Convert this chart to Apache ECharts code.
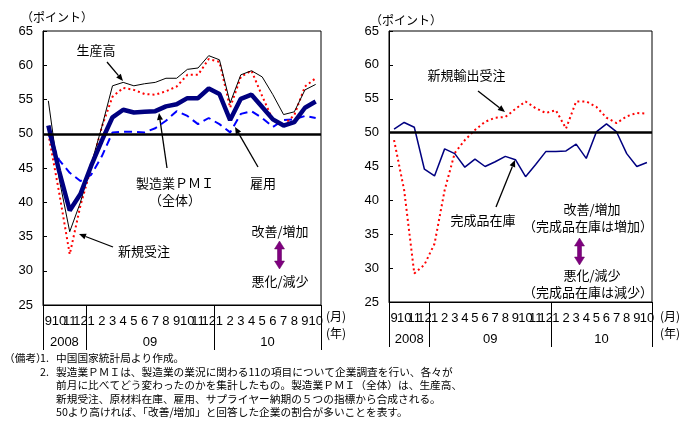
<!DOCTYPE html>
<html>
<head>
<meta charset="utf-8">
<script src="https://cdn.jsdelivr.net/npm/echarts@6/dist/echarts.min.js"></script>
<style>
html, body { margin: 0; padding: 0; background: #fff; }
#chart { width: 692px; height: 445px; }
</style>
</head>
<body>
<div id="chart"></div>
<script>
// months from 2008/9 to 2010/10
var months = ['9', '10', '11', '12', '1', '2', '3', '4', '5', '6', '7', '8', '9', '10', '11', '12', '1', '2', '3', '4', '5', '6', '7', '8', '9', '10'];
var years = ['2008', '09', '10'];
var yearCenters = [2, 10, 21];
var yearBreaks = [0, 4, 16, 26];

// left panel
var pmi = [51.2, 44.6, 38.8, 41.2, 45.3, 49.0, 52.4, 53.5, 53.1, 53.2, 53.3, 54.0, 54.3, 55.2, 55.2, 56.6, 55.8, 52.0, 55.1, 55.7, 53.9, 52.1, 51.2, 51.7, 53.8, 54.7];
var output = [54.8, 43.5, 35.7, 40.0, 45.5, 51.0, 57.0, 57.5, 57.0, 57.3, 57.5, 58.1, 58.1, 59.4, 59.6, 61.4, 60.8, 54.5, 58.6, 59.2, 58.3, 55.7, 52.8, 53.2, 56.4, 57.2];
var newOrders = [50.0, 41.5, 32.4, 39.5, 45.0, 51.0, 55.4, 56.7, 56.4, 55.8, 55.7, 56.2, 56.9, 58.6, 58.6, 60.9, 60.5, 53.8, 58.3, 59.2, 55.5, 52.0, 51.3, 52.7, 56.9, 58.1];
var employment = [50.0, 46.2, 44.3, 43.1, 44.0, 46.7, 50.2, 50.3, 50.3, 50.2, 50.8, 51.9, 53.3, 52.6, 51.4, 52.3, 51.4, 50.2, 52.9, 53.3, 52.3, 51.0, 52.0, 52.1, 52.6, 52.3];

// right panel
var exportOrders = [48.9, 41.5, 29.2, 30.5, 33.6, 41.5, 47.0, 48.9, 50.4, 51.6, 52.2, 52.3, 53.5, 54.6, 53.6, 52.9, 53.3, 50.6, 54.6, 54.6, 53.8, 52.2, 51.4, 52.4, 52.9, 52.8];
var finishedStock = [50.5, 51.5, 50.8, 44.6, 43.6, 47.6, 46.9, 44.9, 46.1, 45.0, 45.7, 46.5, 46.0, 43.5, 45.3, 47.2, 47.2, 47.3, 48.3, 46.2, 50.1, 51.3, 50.1, 46.9, 45.0, 45.6];

var JP = '"Noto Sans CJK JP", sans-serif';
var NUM = '"Liberation Sans", Arial, sans-serif';
var NARROW = '"Liberation Sans Narrow", "Liberation Sans", sans-serif';

var chart = echarts.init(document.getElementById('chart'));

function monthAxis(gi) {
  return {
    type: 'category', gridIndex: gi, data: months, boundaryGap: true,
    axisLine: { lineStyle: { color: '#000', width: 1 } },
    axisTick: { show: false },
    axisLabel: { interval: 0, color: '#000', fontFamily: NARROW, fontSize: 13, margin: 10 }
  };
}

function yearAxis(gi) {
  return {
    type: 'value', gridIndex: gi, position: 'bottom', min: 0, max: 26,
    axisLine: { show: false },
    splitLine: { show: false },
    axisTick: { show: true, customValues: yearBreaks, length: 45, lineStyle: { color: '#000', width: 1 } },
    axisLabel: {
      customValues: yearCenters, margin: 31, color: '#000', fontFamily: NARROW, fontSize: 13,
      formatter: function (v) { return years[yearCenters.indexOf(v)]; }
    }
  };
}

function valueAxis(gi) {
  return {
    type: 'value', gridIndex: gi, min: 25, max: 65, interval: 5,
    axisLine: { show: true, lineStyle: { color: '#000', width: 1 } },
    axisTick: { show: true, inside: true, length: 4, lineStyle: { color: '#000' } },
    axisLabel: { color: '#000', fontFamily: NUM, fontSize: 13, margin: 10 },
    splitLine: { show: false }
  };
}

function line(name, data, xi, yi, style) {
  return {
    name: name, type: 'line', xAxisIndex: xi, yAxisIndex: yi, data: data,
    symbol: 'none', lineStyle: style
  };
}

function baseLine(s) {
  s.markLine = {
    silent: true, symbol: 'none', label: { show: false }, z: 10,
    lineStyle: { color: '#000', width: 2.5, type: 'solid' },
    data: [{ yAxis: 50 }]
  };
  return s;
}

function arrow(x1, y1, x2, y2) {
  var a = Math.atan2(y2 - y1, x2 - x1), L = 7, W = 3;
  var bx = x2 - L * Math.cos(a), by = y2 - L * Math.sin(a);
  var px = -Math.sin(a) * W, py = Math.cos(a) * W;
  return [
    { type: 'line', shape: { x1: x1, y1: y1, x2: bx, y2: by }, style: { stroke: '#000', lineWidth: 1.3 } },
    { type: 'polygon', shape: { points: [[x2, y2], [bx + px, by + py], [bx - px, by - py]] }, style: { fill: '#000' } }
  ];
}

function dblArrow(cx, y1, y2) {
  var hw = 5, hh = 8, sw = 2;
  return {
    type: 'polygon',
    shape: { points: [[cx, y1], [cx + hw, y1 + hh], [cx + sw, y1 + hh], [cx + sw, y2 - hh], [cx + hw, y2 - hh],
      [cx, y2], [cx - hw, y2 - hh], [cx - sw, y2 - hh], [cx - sw, y1 + hh], [cx - hw, y1 + hh]] },
    style: { fill: '#800080', stroke: '#5a005a', lineWidth: 0.5 }
  };
}

function txt(s, x, y, size, align, font) {
  return {
    type: 'text',
    style: { text: s, x: x, y: y, fill: '#000', fontSize: size, fontFamily: font || JP,
      textAlign: align || 'center', textVerticalAlign: 'middle' }
  };
}

var notes = [
  txt('（備考）', 4, 358, 10.7, 'left'),
  txt('1.', 40, 358, 10.7, 'left'),
  txt('中国国家統計局より作成。', 56, 358, 10.7, 'left'),
  txt('2.', 40, 371.5, 10.7, 'left'),
  txt('製造業ＰＭＩは、製造業の業況に関わる11の項目について企業調査を行い、各々が', 56, 371.5, 10.7, 'left'),
  txt('前月に比べてどう変わったのかを集計したもの。製造業ＰＭＩ（全体）は、生産高、', 56, 385, 10.7, 'left'),
  txt('新規受注、原材料在庫、雇用、サプライヤー納期の５つの指標から合成される。', 56, 398.5, 10.7, 'left'),
  txt('50より高ければ、「改善/増加」と回答した企業の割合が多いことを表す。', 56, 412, 10.7, 'left')
];

var graphics = [
  txt('（ポイント）', 57, 17, 12),
  txt('（ポイント）', 406, 20, 12),
  txt('(月)', 336, 316, 12), txt('(年)', 336, 333, 12),
  txt('(月)', 670, 316, 12), txt('(年)', 670, 333, 12),
  txt('生産高', 96, 50, 13),
  txt('製造業ＰＭＩ', 175, 183, 13),
  txt('（全体）', 175, 200, 13),
  txt('雇用', 263, 183, 13),
  txt('新規受注', 144, 251, 13),
  txt('改善/増加', 280, 231, 13),
  txt('悪化/減少', 280, 281, 13),
  dblArrow(279.5, 241, 269),
  txt('新規輸出受注', 466.5, 75, 13),
  txt('完成品在庫', 483, 220, 13),
  txt('改善/増加', 592, 209, 13),
  txt('（完成品在庫は増加）', 588, 226, 13),
  dblArrow(579.5, 238, 265),
  txt('悪化/減少', 592, 275, 13),
  txt('（完成品在庫は減少）', 588, 292, 13)
].concat(
  arrow(107, 62, 123, 81),
  arrow(167, 168, 159, 113),
  arrow(258, 167, 235, 127),
  arrow(113, 247, 79, 234),
  arrow(478, 91, 505, 112),
  arrow(496, 207, 515, 160),
  notes
);

chart.setOption({
  animation: false,
  backgroundColor: '#fff',
  grid: [
    { left: 43, top: 31, width: 278, height: 274, show: true, borderColor: '#000', borderWidth: 1, backgroundColor: 'transparent' },
    { left: 389, top: 31, width: 263, height: 271, show: true, borderColor: '#000', borderWidth: 1, backgroundColor: 'transparent' }
  ],
  xAxis: [monthAxis(0), yearAxis(0), monthAxis(1), yearAxis(1)],
  yAxis: [valueAxis(0), valueAxis(1)],
  series: [
    baseLine(line('雇用', employment, 0, 0, { color: '#0000ff', width: 2, type: [8, 5] })),
    line('新規受注', newOrders, 0, 0, { color: '#ff0000', width: 2, type: [2, 3] }),
    line('生産高', output, 0, 0, { color: '#000', width: 1 }),
    line('製造業PMI（全体）', pmi, 0, 0, { color: '#000080', width: 4.5 }),
    baseLine(line('新規輸出受注', exportOrders, 2, 1, { color: '#ff0000', width: 2, type: [2, 3] })),
    line('完成品在庫', finishedStock, 2, 1, { color: '#000080', width: 1.5 })
  ],
  graphic: graphics
});
</script>
</body>
</html>
